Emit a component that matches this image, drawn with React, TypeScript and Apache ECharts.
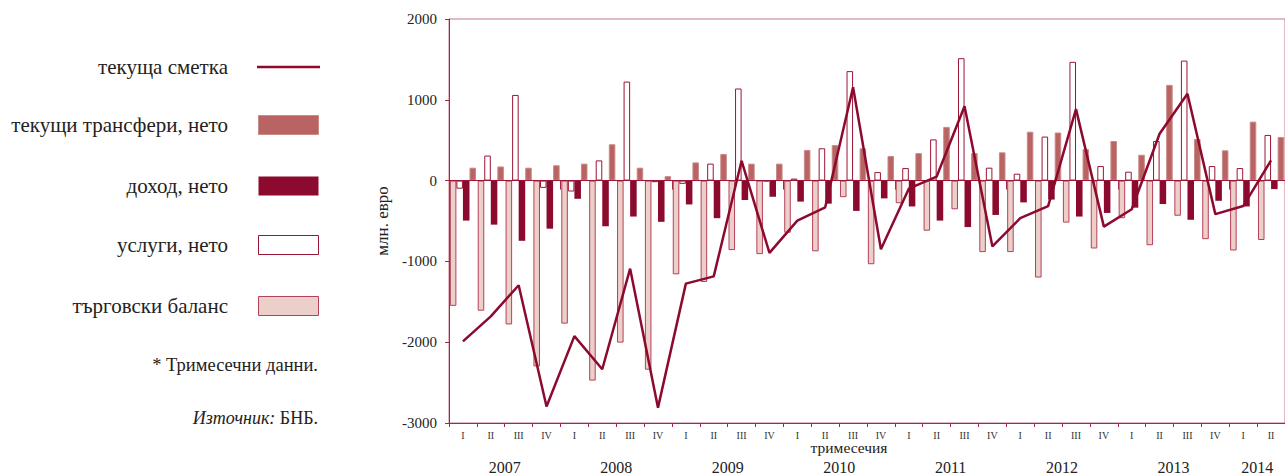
import React, { useEffect, useRef } from "react";
import * as echarts from "echarts";

const quarterLabels = [
  "I", "II", "III", "IV", "I", "II", "III", "IV", "I", "II", "III", "IV",
  "I", "II", "III", "IV", "I", "II", "III", "IV", "I", "II", "III", "IV",
  "I", "II", "III", "IV", "I", "II",
];
const years = ["2007", "2008", "2009", "2010", "2011", "2012", "2013", "2014"];
const yearTickPositions = [0, 4, 8, 12, 16, 20, 24, 28];
const yearLabelPositions = [2, 6, 10, 14, 18, 22, 26, 29];

const tradeBalance = [
  -1550, -1610, -1780, -2300, -1770, -2475, -2005, -2340,
  -1160, -1255, -860, -910, -645, -875, -205, -1035,
  -280, -620, -355, -885, -885, -1200, -520, -840,
  -465, -800, -435, -725, -865, -735,
];
const services = [
  -100, 310, 1060, -90, -135, 250, 1225, -20,
  -40, 210, 1140, -10, 25, 400, 1355, 105,
  155, 510, 1515, 160, 85, 545, 1470, 180,
  110, 490, 1485, 180, 155, 565,
];
const income = [
  -495, -545, -745, -595, -225, -565, -445, -510,
  -295, -465, -240, -200, -260, -285, -375, -220,
  -320, -495, -575, -425, -270, -235, -445, -400,
  -335, -290, -485, -250, -320, -105,
];
const transfers = [
  160, 175, 160, 190, 210, 450, 160, 55,
  225, 330, 210, 210, 380, 440, 400, 305,
  340, 665, 340, 350, 605, 595, 390, 490,
  320, 1185, 515, 375, 730, 540,
];
const currentAccount = [
  -1990, -1680, -1295, -2795, -1925, -2335, -1090, -2810,
  -1275, -1185, 245, -895, -495, -330, 1155, -850,
  -100, 50, 920, -815, -465, -315, 885, -570,
  -355, 580, 1075, -415, -315, 250,
];

const legendItems = [
  { name: "текуща сметка", kind: "line", y: 67 },
  { name: "текущи трансфери, нето", kind: "transfers", y: 125 },
  { name: "доход, нето", kind: "income", y: 186 },
  { name: "услуги, нето", kind: "services", y: 245 },
  { name: "търговски баланс", kind: "trade", y: 306 },
];

const SERIF = "Liberation Serif";
const DARK = "#8b0a2e";
const MED = "#b96462";
const PINK = "#ebcfc8";
const AX = "#a8244a";

const swatch: Record<string, any> = {
  transfers: { fill: MED, stroke: "#c98a8a", lineWidth: 1 },
  income: { fill: DARK, stroke: DARK, lineWidth: 0 },
  services: { fill: "#ffffff", stroke: "#9b1535", lineWidth: 1 },
  trade: { fill: PINK, stroke: "#b5405a", lineWidth: 1 },
};

function txt(x: number, y: number, text: string, size: number, align: string, extra: any = {}) {
  return {
    type: "text",
    x,
    y,
    style: {
      text,
      fontFamily: SERIF,
      fontSize: size,
      fill: "#222",
      align,
      verticalAlign: "middle",
      ...extra,
    },
  };
}

export default function App() {
  const ref = useRef<HTMLDivElement>(null);
  useEffect(() => {
    if (!ref.current) return;
    const chart = echarts.init(ref.current, undefined, { renderer: "svg" });

    const graphics: any[] = [];
    legendItems.forEach((it) => {
      graphics.push(txt(228, it.y, it.name, 21, "right"));
      if (it.kind === "line") {
        graphics.push({
          type: "line",
          shape: { x1: 257, y1: it.y, x2: 320, y2: it.y },
          style: { stroke: DARK, lineWidth: 2.5 },
        });
      } else {
        graphics.push({
          type: "rect",
          shape: { x: 258.5, y: it.y - 9.5, width: 60, height: 19 },
          style: swatch[it.kind],
        });
      }
    });
    graphics.push(txt(318, 365, "* Тримесечни данни.", 18.5, "right"));
    graphics.push(
      txt(318, 418, "{i|Източник:}{n| БНБ.}", 18, "right", {
        rich: {
          i: { fontFamily: SERIF, fontSize: 18, fontStyle: "italic", fill: "#222" },
          n: { fontFamily: SERIF, fontSize: 18, fill: "#222" },
        },
      })
    );
    graphics.push(txt(849, 447, "тримесечия", 15.5, "center"));

    const barCommon = {
      type: "bar",
      barGap: "0%",
      barCategoryGap: "6%",
      xAxisIndex: 0,
      yAxisIndex: 0,
    };

    const option: any = {
      animation: false,
      textStyle: { fontFamily: SERIF },
      grid: {
        left: 449,
        top: 19,
        width: 843,
        height: 404,
        show: true,
        borderColor: "#c7788a",
        borderWidth: 1,
        backgroundColor: "transparent",
      },
      xAxis: [
        {
          type: "category",
          data: quarterLabels,
          boundaryGap: true,
          axisLine: { show: true, onZero: false, lineStyle: { color: AX, width: 1 } },
          axisTick: { show: true, interval: 0, length: 4, lineStyle: { color: AX } },
          axisLabel: {
            interval: 0,
            fontSize: 10,
            fontFamily: SERIF,
            color: "#333",
            margin: 7,
          },
          splitLine: { show: false },
        },
        {
          type: "value",
          min: 0,
          max: 30,
          position: "bottom",
          axisLine: { show: false },
          splitLine: { show: false },
          axisTick: {
            show: true,
            customValues: yearTickPositions,
            length: 9,
            lineStyle: { color: AX },
          },
          axisLabel: {
            customValues: yearLabelPositions,
            formatter: (v: number) => {
              const i = yearLabelPositions.indexOf(v);
              return i >= 0 ? years[i] : "";
            },
            fontSize: 16,
            fontFamily: SERIF,
            color: "#222",
            margin: 36,
          },
        },
      ],
      yAxis: {
        type: "value",
        min: -3000,
        max: 2000,
        interval: 1000,
        name: "млн. евро",
        nameLocation: "middle",
        nameGap: 50,
        nameTextStyle: { fontSize: 17, fontFamily: SERIF, color: "#222" },
        axisLine: { show: true, lineStyle: { color: AX, width: 1 } },
        axisTick: { show: true, length: 4, lineStyle: { color: AX } },
        axisLabel: {
          fontSize: 15,
          fontFamily: SERIF,
          color: "#222",
          margin: 12,
          formatter: (v: number) => String(v),
        },
        splitLine: { show: false },
      },
      graphic: graphics,
      series: [
        {
          ...barCommon,
          name: "търговски баланс",
          data: tradeBalance,
          itemStyle: { color: PINK, borderColor: "#b5405a", borderWidth: 1 },
        },
        {
          ...barCommon,
          name: "услуги, нето",
          data: services,
          itemStyle: { color: "#ffffff", borderColor: "#9b1535", borderWidth: 1 },
        },
        {
          ...barCommon,
          name: "доход, нето",
          data: income,
          itemStyle: { color: DARK },
        },
        {
          ...barCommon,
          name: "текущи трансфери, нето",
          data: transfers,
          itemStyle: { color: MED, borderColor: "#c98a8a", borderWidth: 1 },
        },
        {
          type: "line",
          name: "текуща сметка",
          data: currentAccount,
          xAxisIndex: 0,
          yAxisIndex: 0,
          symbol: "none",
          z: 5,
          lineStyle: { color: DARK, width: 2.5 },
          markLine: {
            silent: true,
            symbol: ["none", "none"],
            label: { show: false },
            lineStyle: { color: "#9b1535", width: 1, type: "solid" },
            data: [{ yAxis: 0 }],
          },
        },
      ],
    };
    chart.setOption(option);
    return () => chart.dispose();
  }, []);

  return (
    <div
      ref={ref}
      style={{ position: "absolute", left: 0, top: 0, width: 1285, height: 475, background: "#fff" }}
    />
  );
}
